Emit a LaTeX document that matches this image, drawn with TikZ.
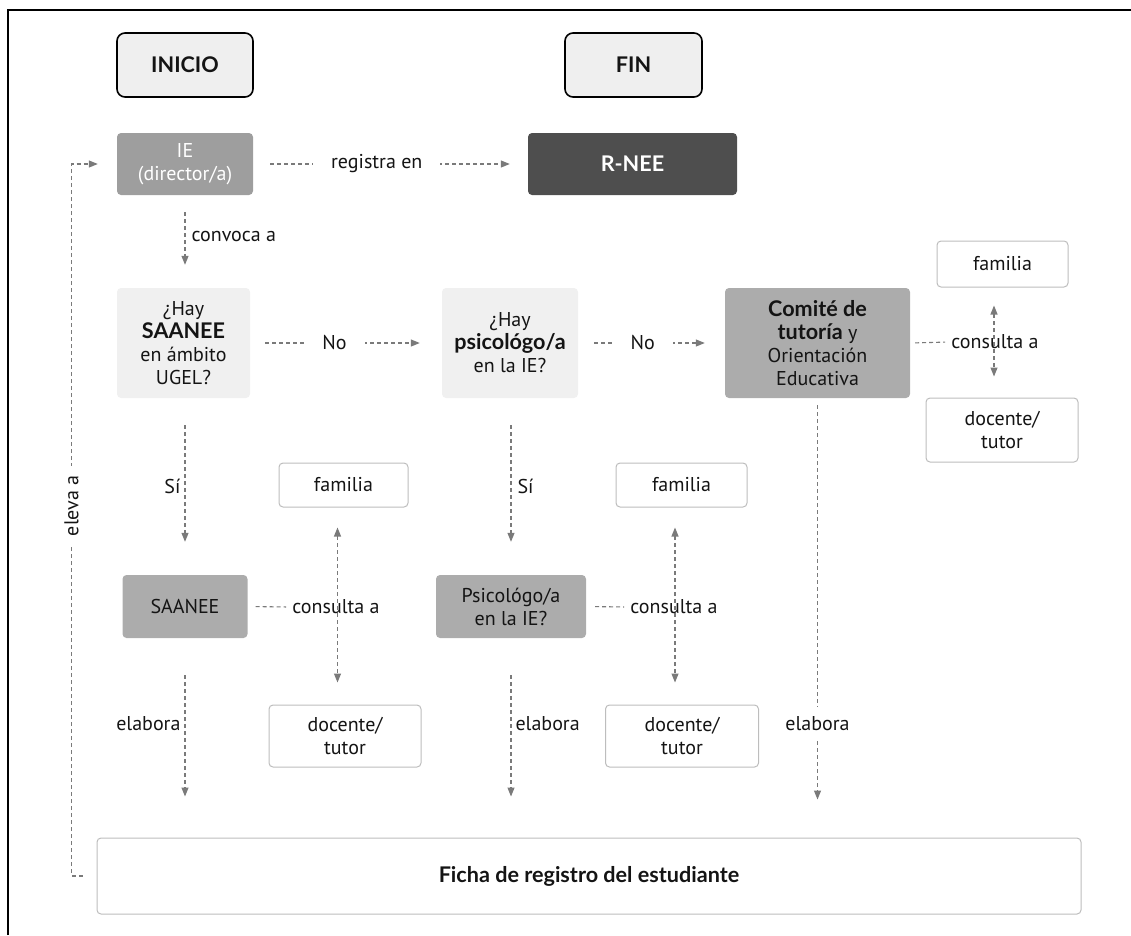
\documentclass[tikz,border=0pt]{standalone}
\usepackage{fontspec}
\setmainfont{PT Sans}[BoldFont={Lato Bold}, BoldFeatures={Scale=1.08}]
\usetikzlibrary{arrows.meta,calc}
\definecolor{lineg}{HTML}{7A7A7A}
\definecolor{endfill}{HTML}{EFEFEF}
\definecolor{askfill}{HTML}{F0F0F0}
\definecolor{midgray}{HTML}{9E9E9E}
\definecolor{actgray}{HTML}{ACACAC}
\definecolor{darkgray}{HTML}{4E4E4E}
\definecolor{rimgray}{HTML}{BDBDBD}
\definecolor{ink}{HTML}{141414}
\begin{document}
\begin{tikzpicture}[x=1pt,y=-1pt,
  every node/.style={font=\fontsize{20}{23}\selectfont, text=ink},
  box/.style={rounded corners=4pt, inner sep=0pt, align=center},
  endbox/.style={box, draw=black, line width=1.6pt, fill=endfill, rounded corners=8pt,
    minimum width=136pt, minimum height=64pt, font=\fontsize{20}{23}\selectfont\bfseries},
  askbox/.style={box, fill=askfill, minimum height=110pt},
  actbox/.style={box, fill=actgray, minimum height=63pt},
  whitebox/.style={box, draw=rimgray, line width=1pt, fill=white},
  link/.style={draw=lineg, line width=1.1pt, dash pattern=on 4pt off 3pt},
  tip/.tip={Triangle[length=9pt,width=7pt]},
  arr/.style={link, -tip},
  darr/.style={link, tip-tip},
  gaplabel/.style={fill=white, inner xsep=18pt},
]
\useasboundingbox (0,0) rectangle (1131,935);

% page frame
\draw[line width=1.5pt] (8,935) -- (8,10) -- (1131,10);

% start / end markers
\node[endbox] (inicio) at (185,65) {INICIO};
\node[endbox, minimum width=137pt] (fin) at (633.5,65) {FIN};

% top row
\node[box, fill=midgray, minimum width=136pt, minimum height=62pt, text=white] (ie) at (185,164) {IE\\(director/a)};
\node[box, fill=darkgray, minimum width=209pt, minimum height=62pt, text=white,
  font=\fontsize{20}{23}\selectfont\bfseries] (rnee) at (632.5,164) {R-NEE};

% questions and committee
\node[askbox, minimum width=133pt] (q1) at (183.5,343) {¿Hay\\\textbf{SAANEE}\\en ámbito\\UGEL?};
\node[askbox, minimum width=136pt] (q2) at (510,343) {¿Hay\\\textbf{psicológo/a}\\en la IE?};
\node[box, fill=actgray, minimum width=185pt, minimum height=110pt] (comite) at (817.5,343)
  {\textbf{Comité de}\\\textbf{tutoría} y\\Orientación\\Educativa};

% consulted parties
\node[whitebox, minimum width=131pt, minimum height=46pt] (famR) at (1002.5,264) {familia};
\node[whitebox, minimum width=152pt, minimum height=64pt] (docR) at (1002,430) {docente/\\tutor};
\node[whitebox, minimum width=129pt, minimum height=44pt] (famL) at (343.5,485) {familia};
\node[whitebox, minimum width=131pt, minimum height=44pt] (famM) at (681.5,485) {familia};
\node[whitebox, minimum width=152pt, minimum height=62pt] (docL) at (345,736) {docente/\\tutor};
\node[whitebox, minimum width=153pt, minimum height=62pt] (docM) at (682,736) {docente/\\tutor};

% responsible units
\node[actbox, minimum width=125pt] (saanee) at (185,606.5) {SAANEE};
\node[actbox, minimum width=150pt] (psico) at (511,606.5) {Psicológo/a\\en la IE?};

% record sheet
\node[whitebox, minimum width=984pt, minimum height=76pt,
  font=\fontsize{20}{23}\selectfont\bfseries] (ficha) at (589,876) {Ficha de registro del estudiante};

% main flow
\draw[arr, shorten <=17pt, shorten >=18pt] (ie) -- node[pos=.45, gaplabel] {registra en} (rnee);
\draw[arr, shorten <=17pt, shorten >=23pt] (ie.south) -- node[pos=.45, right, inner xsep=6pt] {convoca a} (ie.south |- q1.north);
\draw[arr, shorten <=15pt, shorten >=22pt] (q1) -- node[pos=.44, gaplabel] {No} (q2);
\draw[arr, shorten <=16pt, shorten >=20pt] (q2) -- node[pos=.44, gaplabel] {No} (comite);
\draw[arr, shorten <=27pt, shorten >=33pt] (saanee.north |- q1.south) -- node[pos=.5, left, inner xsep=4pt] {Sí} (saanee.north);
\draw[arr, shorten <=27pt, shorten >=33pt] (psico.north |- q2.south) -- node[pos=.5, right, inner xsep=6pt] {Sí} (psico.north);
\draw[arr, shorten <=37pt, shorten >=41pt] (saanee.south) -- node[pos=.43, left, inner xsep=4pt] {elabora} (saanee.south |- ficha.north);
\draw[arr, shorten <=37pt, shorten >=41pt] (psico.south) -- node[pos=.43, right, inner xsep=4pt] {elabora} (psico.south |- ficha.north);
\draw[arr, shorten <=7pt, shorten >=38pt] (comite.south) -- node[pos=.74, fill=white, inner ysep=9pt, inner xsep=2pt] {elabora} (comite.south |- ficha.north);

% consultations
\draw[darr, shorten <=20pt, shorten >=22pt] ([xshift=-6pt]famL.south) -- ([xshift=-6pt]famL.south |- docL.north);
\draw[darr, shorten <=20pt, shorten >=22pt] ([xshift=-6.5pt]famM.south) -- ([xshift=-6.5pt]famM.south |- docM.north);
\draw[darr, shorten <=18pt, shorten >=21pt] ([xshift=-8.5pt]famR.south) -- ([xshift=-8.5pt]famR.south |- docR.north);
\node[inner sep=2pt] (cL) at (336,607) {consulta a};
\node[inner sep=2pt] (cM) at (674,607) {consulta a};
\node[inner sep=2pt] (cR) at (995,342) {consulta a};
\draw[link, shorten <=8pt, shorten >=4pt] (saanee.east) -- (cL.west);
\draw[link, shorten <=9pt, shorten >=4pt] (psico.east) -- (cM.west);
\draw[link, shorten <=5pt, shorten >=4pt] (comite.east) -- (cR.west);

% feedback to the school
\draw[arr] ([xshift=-14pt]ficha.west) -- ++(-11,0)
  |- node[pos=.26, fill=white, rotate=90, inner xsep=10pt] {eleva a} ([xshift=-19pt]ie.west);
\end{tikzpicture}
\end{document}
